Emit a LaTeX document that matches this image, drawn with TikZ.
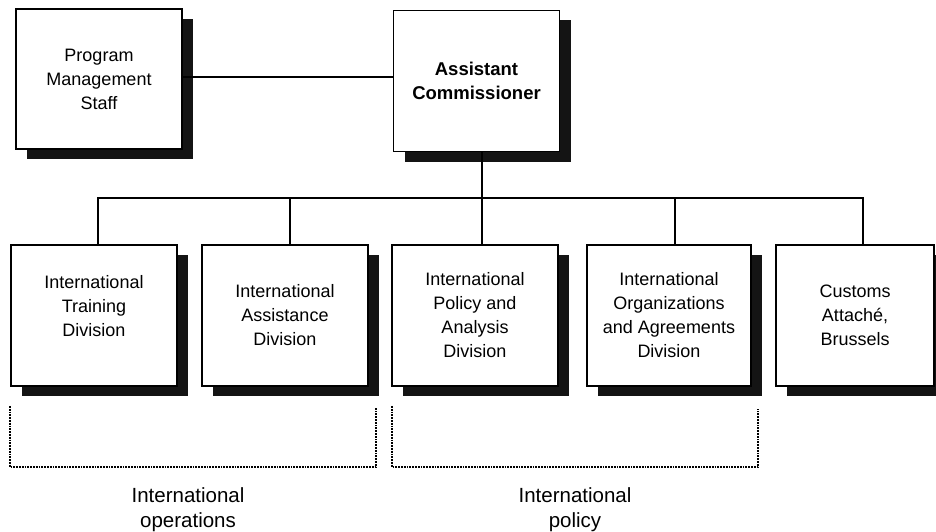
\documentclass[tikz,border=0pt]{standalone}
\usepackage{fontspec}
\setmainfont{Liberation Sans}
\usetikzlibrary{shadows}
\begin{document}
\begin{tikzpicture}[x=1pt,y=-1pt,
  unit/.style={draw, line width=1.8pt, fill=white,
    minimum width=166pt, minimum height=141pt,
    align=center, inner sep=0pt,
    font=\fontsize{18}{24}\selectfont,
    drop shadow={shadow xshift=11pt, shadow yshift=-10pt, fill=black!92, opacity=1}},
  link/.style={line width=1.6pt},
  group/.style={line width=2pt, dash pattern=on 1.8pt off 1pt},
  grouplabel/.style={align=center, font=\fontsize{20.5}{25}\selectfont}]

\useasboundingbox (0,0) rectangle (936,532);
\clip (0,0) rectangle (936,532);

% top level
\node[unit, minimum height=140pt] (pms) at (99,79) {Program\\Management\\Staff};
\node[unit, font=\fontsize{18.5}{24}\selectfont\bfseries] (ac) at (476.5,81) {Assistant\\Commissioner};

% divisions
\node[unit] (d1) at (94,315.5) {International\\Training\\Division\\[-4pt]};
\node[unit] (d2) at (285,315.5) {International\\Assistance\\Division};
\node[unit] (d3) at (475,315.5) {International\\Policy and\\Analysis\\Division};
\node[unit, minimum width=164pt] (d4) at (669,315.5) {International\\Organizations\\and Agreements\\Division};
\node[unit, minimum width=158pt] (d5) at (855,315.5) {Customs\\Attach\'e,\\Brussels};

% reporting lines
\coordinate (bus) at (0,198);
\draw[link] (pms.east |- 0,77) -- (ac.west |- 0,77);
\draw[link] ([xshift=5.5pt]ac.south) -- ([xshift=5.5pt]ac.south |- bus);
\draw[link] ([xshift=4pt]d1.north) -- ([xshift=4pt]d1.north |- bus)
  -- ([xshift=8pt]d5.north |- bus) -- ([xshift=8pt]d5.north);
\foreach \n/\s in {d2/5,d3/7,d4/6}
  \draw[link] ([xshift=\s pt]\n.north) -- ([xshift=\s pt]\n.north |- bus);

% groupings
\coordinate (grp-base) at (0,467);
\coordinate (ops-l) at ([yshift=-19pt]d1.south west);
\coordinate (ops-r) at ([xshift=7pt,yshift=-21pt]d2.south east);
\coordinate (pol-l) at ([xshift=1pt,yshift=-19pt]d3.south west);
\coordinate (pol-r) at ([xshift=6pt,yshift=-22pt]d4.south east);
\draw[group] (ops-l) -- (ops-l |- grp-base) -- (ops-r |- grp-base) -- (ops-r);
\draw[group] (pol-l) -- (pol-l |- grp-base) -- (pol-r |- grp-base) -- (pol-r);

\node[grouplabel] (ops) at (188,510) {International\\operations};
\node[grouplabel] (pol) at (575,510) {International\\policy};
\end{tikzpicture}
\end{document}
